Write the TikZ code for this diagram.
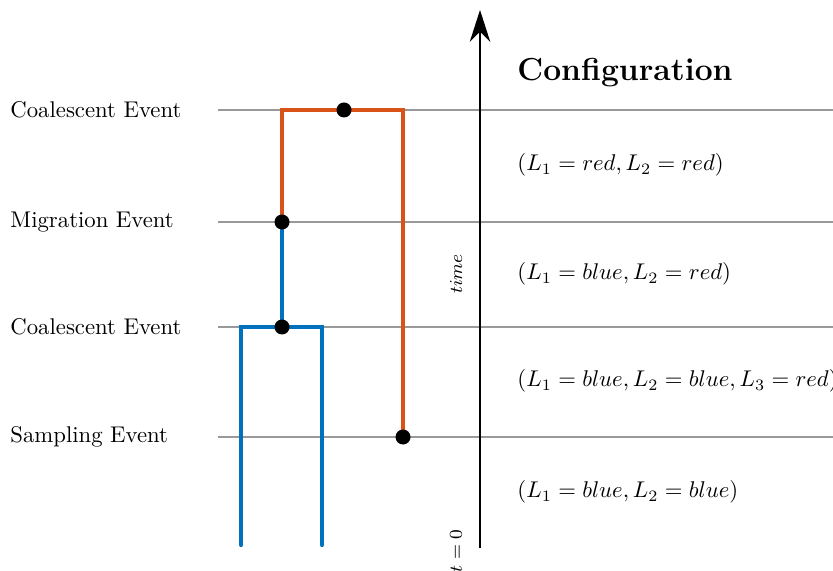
\documentclass[tikz,border=0pt]{standalone}
\usetikzlibrary{arrows.meta}
\definecolor{lred}{HTML}{D95319}
\definecolor{lblue}{HTML}{0072BD}
\tikzset{
  gridline/.style={draw=black!40, line width=0.9pt},
  redline/.style={draw=lred, line width=1.9pt},
  blueline/.style={draw=lblue, line width=1.9pt},
  evdot/.style={circle, fill=black, inner sep=0pt, minimum size=6.6pt},
  evlabel/.style={anchor=west, inner sep=0pt},
  cfglabel/.style={anchor=west, inner sep=0pt},
}
\begin{document}
\begin{tikzpicture}[x=0.44pt, y=-0.44pt]
\useasboundingbox (0,0) rectangle (833,571);
% grid lines
\foreach \n/\y in {a/110, b/222, c/327, d/437} {
  \coordinate (g\n l) at (218,\y);
  \coordinate (g\n r) at (833,\y);
  \draw[gridline] (g\n l) -- (g\n r);
}
% event labels
\node[evlabel] (l1) at (10,110) {Coalescent Event};
\node[evlabel] (l2) at (10,222) {Migration Event};
\node[evlabel] (l3) at (10,327) {Coalescent Event};
\node[evlabel] (l4) at (10,437) {Sampling Event};
% time axis
\coordinate (ax0) at (480,548);
\coordinate (ax1) at (480,10);
\draw[line width=0.9pt, -{Stealth[length=14pt, width=9pt, inset=4.5pt]}] (ax0) -- (ax1);
\node[rotate=90] (tl) at (456,274) {\footnotesize$time$};
\node[rotate=90] (t0) at (456,551) {\footnotesize$t=0$};
% tree coordinates
\coordinate (mig) at (282,222);
\coordinate (rtl) at (282,110);
\coordinate (rtr) at (403,110);
\coordinate (samp) at (403,437);
\coordinate (coal1) at (344,110);
\coordinate (coal2) at (282,327);
\coordinate (bl) at (241,327);
\coordinate (br) at (322,327);
\coordinate (blb) at (241,545);
\coordinate (brb) at (322,545);
% red lineage
\draw[redline, line join=miter] (mig) -- (rtl) -- (rtr) -- (samp);
% blue lineage
\draw[blueline] (mig) -- (coal2);
\draw[blueline, line cap=round, line join=miter] (blb) -- (bl) -- (br) -- (brb);
% dots
\node[evdot] (d1) at (coal1) {};
\node[evdot] (d2) at (mig) {};
\node[evdot] (d3) at (coal2) {};
\node[evdot] (d4) at (samp) {};
% configuration
\node[cfglabel] (cfg) at (517,73) {\fontsize{14}{17}\selectfont\bfseries Configuration};
\node[cfglabel] (c1) at (517,165) {$(L_1=red, L_2=red)$};
\node[cfglabel] (c2) at (517,274) {$(L_1=blue, L_2=red)$};
\node[cfglabel] (c3) at (517,381) {$(L_1=blue, L_2=blue, L_3=red)$};
\node[cfglabel] (c4) at (517,492) {$(L_1=blue, L_2=blue)$};
\end{tikzpicture}
\end{document}
